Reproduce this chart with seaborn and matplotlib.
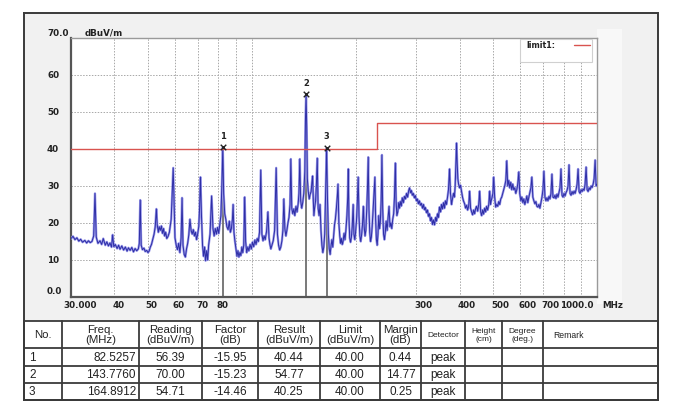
import matplotlib
matplotlib.use("Agg")
import matplotlib.pyplot as plt
import seaborn as sns
from matplotlib.transforms import blended_transform_factory, ScaledTranslation
from matplotlib.patches import Rectangle
from matplotlib.ticker import NullLocator

# ---------------- data ----------------
trace_freq_mhz = [
    30.0, 30.4, 30.8, 31.2, 31.6, 32.0, 32.4, 32.9, 33.3, 33.7,
    34.1, 34.5, 34.9, 35.2, 35.5, 35.9, 36.4, 36.8, 37.2, 37.7,
    38.1, 38.5, 38.9, 39.3, 39.6, 39.9, 40.3, 40.8, 41.2, 41.6,
    42.1, 42.6, 43.1, 43.6, 44.0, 44.5, 45.0, 45.5, 46.0, 46.5,
    47.0, 47.3, 47.6, 47.9, 48.3, 48.8, 49.2, 49.7, 50.1, 50.5,
    50.9, 51.3, 51.8, 52.2, 52.6, 53.0, 53.3, 53.7, 54.0, 54.4,
    54.8, 55.2, 55.6, 56.0, 56.4, 56.8, 57.3, 57.8, 58.5, 59.3,
    60.0, 60.5, 61.0, 61.5, 62.0, 62.5, 62.9, 63.3, 63.8, 64.3,
    64.8, 65.3, 65.8, 66.3, 66.8, 67.3, 67.8, 68.3, 68.8, 69.3,
    69.8, 70.3, 70.7, 71.1, 71.6, 72.1, 72.6, 73.1, 73.6, 74.1,
    74.6, 75.1, 75.8, 76.6, 77.3, 77.9, 78.5, 79.1, 79.7, 80.3,
    80.9, 81.5, 82.0, 82.53, 83.0, 83.6, 84.2, 84.8, 85.5, 86.2,
    86.8, 87.4, 88.0, 88.4, 88.9, 89.5, 90.1, 90.7, 91.3, 91.9,
    92.5, 93.1, 93.7, 94.3, 94.9, 95.5, 96.1, 96.8, 97.5, 98.2,
    99.0, 99.8, 100.6, 101.4, 102.2, 103.0, 103.8, 104.6, 105.4, 106.3,
    107.1, 107.9, 108.7, 109.5, 110.5, 111.5, 112.3, 113.0, 113.7, 114.5,
    115.5, 116.6, 117.8, 118.8, 119.7, 120.6, 121.5, 122.4, 123.2, 124.0,
    124.8, 125.7, 126.5, 127.4, 128.3, 129.2, 129.9, 130.7, 131.6, 132.5,
    133.4, 134.4, 135.4, 136.4, 137.1, 137.9, 138.7, 139.7, 140.6, 141.6,
    142.6, 143.2, 143.78, 144.4, 145.0, 145.9, 146.8, 147.8, 148.7, 149.5,
    150.2, 150.9, 151.5, 152.2, 153.2, 154.0, 154.9, 155.8, 156.8, 157.8,
    158.8, 159.8, 160.8, 161.8, 162.8, 163.8, 164.89, 165.8, 166.8, 167.8,
    168.8, 169.8, 170.8, 171.8, 172.8, 173.8, 174.8, 176.0, 177.0, 177.9,
    178.9, 180.0, 181.0, 182.0, 183.0, 184.0, 185.2, 186.4, 187.5, 188.8,
    189.8, 190.5, 191.3, 192.3, 193.4, 194.5, 195.6, 196.8, 197.8, 199.0,
    200.0, 201.2, 202.4, 203.5, 204.6, 205.8, 207.0, 208.2, 209.4, 210.6,
    211.8, 213.0, 214.2, 215.5, 216.6, 217.6, 218.6, 219.8, 221.0, 222.2,
    223.4, 224.6, 226.0, 227.5, 228.6, 229.8, 231.0, 232.2, 233.4, 234.6,
    235.8, 237.2, 238.4, 239.6, 241.0, 242.4, 243.8, 245.2, 246.8, 248.4,
    250.0, 251.5, 253.0, 254.6, 256.2, 257.8, 259.2, 260.7, 262.0, 263.4,
    265.0, 266.6, 268.0, 269.5, 271.3, 273.0, 275.0, 277.0, 279.0, 281.0,
    283.0, 285.0, 286.6, 288.4, 290.1, 292.0, 294.0, 296.0, 298.0, 300.0,
    302.0, 304.0, 306.0, 308.0, 310.2, 312.5, 314.5, 316.5, 318.5, 320.8,
    323.0, 325.0, 327.3, 329.5, 331.5, 334.0, 336.0, 338.5, 341.0, 343.0,
    345.3, 347.5, 350.0, 352.5, 354.6, 357.0, 359.5, 361.8, 364.0, 366.5,
    369.2, 371.5, 374.2, 376.5, 379.2, 381.5, 384.3, 386.5, 388.5, 390.5,
    392.1, 393.8, 395.5, 397.4, 400.0, 402.5, 405.5, 408.0, 410.5, 413.7,
    416.5, 419.5, 422.1, 425.0, 427.8, 430.5, 433.5, 436.5, 439.5, 442.3,
    445.0, 448.0, 451.3, 454.5, 457.4, 460.5, 463.5, 466.5, 469.5, 472.9,
    476.0, 479.0, 482.5, 486.0, 489.0, 491.5, 494.0, 497.0, 499.5, 502.3,
    505.5, 509.0, 512.5, 516.0, 519.5, 522.9, 526.5, 529.9, 533.5, 537.0,
    540.5, 544.5, 548.0, 551.5, 555.3, 559.0, 562.8, 566.5, 570.4, 574.0,
    578.1, 582.0, 585.9, 589.5, 593.8, 597.5, 601.8, 605.9, 610.0, 614.0,
    618.1, 622.3, 626.5, 630.5, 634.9, 640.0, 643.5, 647.8, 652.0, 656.5,
    661.0, 665.5, 669.9, 674.5, 678.9, 683.5, 688.1, 693.0, 697.5, 702.0,
    706.8, 711.5, 716.3, 721.1, 726.0, 730.8, 735.7, 740.6, 745.6, 750.6,
    755.6, 760.7, 765.8, 771.0, 776.1, 781.3, 786.6, 791.9, 797.2, 802.5,
    807.9, 813.4, 818.9, 824.4, 829.9, 835.5, 841.1, 846.8, 852.4, 858.2,
    864.0, 869.8, 875.6, 881.5, 887.4, 893.4, 899.4, 905.4, 911.5, 917.6,
    923.7, 929.9, 936.2, 942.5, 948.8, 955.2, 961.6, 968.1, 974.5, 981.0,
    987.6, 994.0, 1000.0,
]
trace_level_dbuv = [
    15.8, 16.4, 15.5, 16.0, 15.1, 15.6, 14.8, 15.3, 14.6, 15.2,
    14.7, 15.0, 16.5, 28.0, 16.2, 14.5, 15.2, 14.2, 15.8, 14.0,
    14.9, 13.8, 14.6, 13.5, 16.8, 13.6, 14.2, 13.1, 14.0, 12.9,
    13.8, 12.7, 13.5, 12.4, 13.3, 12.6, 13.4, 12.2, 13.1, 12.5,
    13.0, 14.5, 26.2, 14.0, 12.8, 13.2, 12.3, 12.6, 12.0, 12.4,
    13.5, 14.2, 15.8, 17.0, 19.0, 23.8, 19.5, 17.5, 19.0, 18.0,
    19.2, 17.2, 18.5, 16.5, 17.5, 15.8, 16.4, 17.5, 21.0, 34.9,
    16.0, 14.0, 12.8, 14.5, 12.0, 16.0, 26.8, 14.0, 11.5, 10.8,
    13.0, 14.5, 16.8, 21.0, 18.0, 17.0, 18.2, 16.5, 17.5, 15.5,
    17.0, 19.0, 24.0, 32.4, 22.0, 14.0, 11.0, 13.5, 9.8, 12.5,
    10.0, 14.0, 17.0, 27.3, 18.5, 16.5, 18.5, 17.0, 18.8, 17.2,
    19.5, 22.0, 30.0, 40.44, 28.0, 22.5, 21.0, 19.0, 18.2, 20.5,
    17.5, 18.5, 21.0, 25.0, 17.5, 15.0, 13.0, 11.0, 12.5, 10.8,
    12.0, 11.2, 13.5, 12.0, 14.0, 27.0, 15.0, 12.0, 13.5, 12.5,
    14.2, 13.0, 14.8, 13.6, 15.4, 14.2, 15.8, 15.0, 17.5, 34.3,
    17.0, 15.2, 16.5, 15.5, 17.8, 23.0, 16.0, 14.2, 13.0, 14.0,
    15.2, 18.0, 34.9, 17.0, 14.0, 12.7, 13.5, 15.2, 18.0, 26.5,
    18.5, 16.5, 18.0, 20.0, 21.5, 25.0, 37.3, 24.0, 22.5, 23.8,
    22.0, 24.5, 23.0, 25.2, 28.0, 37.3, 26.0, 24.0, 25.5, 28.0,
    34.0, 48.0, 54.77, 46.0, 32.0, 28.5, 26.5, 27.8, 28.5, 31.0,
    32.7, 26.0, 22.0, 24.0, 26.0, 30.0, 37.5, 24.0, 22.0, 25.0,
    18.0, 14.0, 12.0, 13.5, 17.0, 28.0, 40.25, 27.0, 17.0, 13.0,
    11.5, 13.8, 15.5, 13.5, 16.5, 19.5, 21.0, 24.0, 27.0, 30.5,
    20.0, 16.5, 14.5, 15.8, 14.2, 15.0, 17.2, 15.5, 18.0, 22.0,
    27.0, 34.6, 22.0, 16.0, 14.8, 16.2, 19.0, 25.0, 17.0, 15.5,
    17.5, 20.5, 26.0, 32.4, 22.0, 16.5, 15.0, 16.8, 19.5, 24.5,
    19.0, 16.5, 18.0, 24.0, 30.0, 37.8, 24.0, 17.5, 15.0, 16.2,
    19.0, 23.0, 28.0, 32.4, 21.0, 15.5, 14.0, 17.0, 22.0, 18.5,
    20.0, 26.0, 38.4, 24.0, 17.0, 15.5, 17.5, 20.5, 18.0, 21.5,
    24.5, 19.0, 20.0, 18.5, 21.0, 22.5, 27.0, 36.2, 26.0, 22.0,
    23.0, 25.5, 24.0, 25.8, 24.6, 26.8, 25.5, 27.2, 26.5, 28.0,
    27.0, 28.8, 29.5, 28.2, 28.8, 27.5, 28.0, 26.8, 27.4, 26.0,
    26.5, 25.2, 26.0, 24.8, 25.3, 24.0, 25.0, 23.6, 24.2, 22.8,
    23.5, 21.8, 22.5, 20.6, 21.5, 19.6, 20.8, 19.5, 21.5, 20.5,
    22.5, 21.5, 24.3, 23.0, 25.0, 23.8, 25.5, 24.0, 26.0, 25.0,
    27.0, 29.0, 34.6, 28.0, 25.0, 26.5, 28.0, 27.0, 30.0, 36.0,
    41.6, 36.0, 32.0, 30.5, 29.5, 30.2, 28.5, 27.0, 26.0, 25.2,
    24.0, 24.8, 23.5, 24.5, 28.6, 24.0, 23.0, 22.2, 23.5, 22.5,
    23.8, 24.5, 23.2, 25.0, 28.6, 23.0, 22.0, 23.5, 22.4, 24.0,
    23.0, 24.5, 23.5, 25.0, 28.6, 25.0, 26.0, 27.0, 28.0, 32.4,
    27.0, 24.3, 25.0, 24.5, 25.8, 25.0, 26.5, 27.0, 28.0, 29.0,
    30.0, 31.5, 36.8, 30.0, 31.5, 29.5, 31.0, 29.0, 30.5, 29.0,
    29.5, 28.0, 29.0, 30.5, 33.8, 28.0, 26.0, 27.0, 25.5, 26.5,
    25.0, 26.0, 27.3, 25.5, 27.0, 28.5, 29.5, 32.4, 27.0, 26.0,
    25.2, 25.8, 24.5, 24.3, 25.0, 24.0, 25.5, 27.0, 29.0, 34.0,
    27.0, 26.0, 26.8, 26.0, 27.2, 26.5, 28.0, 33.2, 27.0, 26.8,
    27.5, 26.6, 27.8, 27.0, 28.2, 29.5, 34.6, 27.5, 27.0, 28.0,
    27.3, 28.2, 28.8, 30.0, 35.7, 28.0, 27.5, 28.5, 27.8, 28.6,
    28.0, 29.0, 30.5, 34.6, 28.5, 28.0, 29.0, 28.5, 29.2, 28.8,
    30.5, 35.1, 29.0, 28.5, 29.5, 29.0, 30.0, 29.6, 30.5, 32.0,
    37.0, 30.0, 30.5,
]

limit_freq_mhz = [30, 230, 230, 1000]
limit_level_dbuv = [40, 40, 47, 47]

y_ticks = [0, 10, 20, 30, 40, 50, 60, 70]
y_tick_labels = ["0.0", "10", "20", "30", "40", "50", "60", "70.0"]
x_grid = [40, 50, 60, 70, 80, 90, 100, 200, 300, 400, 500, 600, 700, 800, 900]
x_tick_vals = [30, 40, 50, 60, 70, 80, 300, 400, 500, 600, 700, 1000]
x_tick_labels = ["30.000", "40", "50", "60", "70", "80", "300", "400",
                 "500", "600", "700", "1000.0"]

table_no = ["1", "2", "3"]
table_freq = ["82.5257", "143.7760", "164.8912"]
table_reading = ["56.39", "70.00", "54.71"]
table_factor = ["-15.95", "-15.23", "-14.46"]
table_result = ["40.44", "54.77", "40.25"]
table_limit = ["40.00", "40.00", "40.00"]
table_margin = ["0.44", "14.77", "0.25"]
table_detector = ["peak", "peak", "peak"]
table_headers = ["No.", "Freq.\n(MHz)", "Reading\n(dBuV/m)", "Factor\n(dB)",
                 "Result\n(dBuV/m)", "Limit\n(dBuV/m)", "Margin\n(dB)",
                 "Detector", "Height\n(cm)", "Degree\n(deg.)", "Remark"]

marker_freq = [float(v) for v in table_freq]
marker_level = [float(v) for v in table_result]

# ---------------- figure ----------------
sns.set_theme(style="white")
plt.rcParams["font.family"] = ["DejaVu Sans"]

W, H = 675, 414
DPI = 100
fig = plt.figure(figsize=(W / DPI, H / DPI), dpi=DPI)
fig.patch.set_facecolor("white")

# background layer in pixel coordinates
bg = fig.add_axes([0, 0, 1, 1], zorder=0)
bg.set_xlim(0, W)
bg.set_ylim(H, 0)
bg.axis("off")
bg.add_patch(Rectangle((24, 14), 634, 308, facecolor="#f1f1f1", edgecolor="none"))
bg.add_patch(Rectangle((597, 30), 25, 275, facecolor="#f8f8f8", edgecolor="none"))

# main plot
ax = fig.add_axes([71 / W, 1 - 298 / H, 526 / W, 259 / H], zorder=2)
ax.set_facecolor("white")
ax.set_xscale("log")

sns.lineplot(x=trace_freq_mhz, y=trace_level_dbuv, ax=ax, color="#9a9aea",
             linewidth=1.7, estimator=None, sort=False, zorder=3)
sns.lineplot(x=trace_freq_mhz, y=trace_level_dbuv, ax=ax, color="#2e2ea6",
             linewidth=0.7, estimator=None, sort=False, zorder=4)
sns.lineplot(x=limit_freq_mhz, y=limit_level_dbuv, ax=ax, color="#d9534f",
             linewidth=1.0, estimator=None, sort=False, zorder=5)

ax.vlines(marker_freq, 0, marker_level, color="#6e6e6e", linewidth=1.3, zorder=2.5)
sns.scatterplot(x=marker_freq, y=marker_level, ax=ax, marker="x", color="#222222",
                s=16, linewidth=1.0, zorder=6)
for i, (f, lv) in enumerate(zip(marker_freq, marker_level)):
    ax.annotate(table_no[i], (f, lv), xytext=(0, 5.5), textcoords="offset points",
                ha="center", va="bottom", fontsize=6, fontweight="bold",
                color="#222222", zorder=7)

ax.set_xlim(30, 1000)
ax.set_ylim(0, 70)
ax.set_xticks(x_grid)
ax.xaxis.set_minor_locator(NullLocator())
ax.set_yticks(y_ticks[1:-1])
ax.tick_params(length=0, labelbottom=False, labelleft=False)
ax.grid(True, color="#a8a8a8", linestyle=(0, (1.5, 1.5)), linewidth=0.7)
ax.set_xlabel("")
ax.set_ylabel("")
for side in ["top", "right"]:
    ax.spines[side].set_color("#9a9a9a")
    ax.spines[side].set_linewidth(1.0)
for side in ["left", "bottom"]:
    ax.spines[side].set_color("#555555")
    ax.spines[side].set_linewidth(1.6)

# y tick labels
def px(dx, dy):
    return ScaledTranslation(dx / DPI, dy / DPI, fig.dpi_scale_trans)

ytr = blended_transform_factory(fig.transFigure, ax.transData)
for v, lab in zip(y_ticks, y_tick_labels):
    shift = 6 if v in (0, 70) else 0
    ax.text(47 / W, v, lab, transform=ytr + px(0, shift), ha="left", va="center",
            fontsize=6.3, fontweight="bold", color="#222222")
ax.text(85 / W, 70, "dBuV/m", transform=ytr + px(0, 6), ha="left", va="center",
        fontsize=6.3, fontweight="bold", color="#222222")

# x tick labels
xtr = blended_transform_factory(ax.transData, fig.transFigure)
ylab = 1 - 306 / H
for v, lab in zip(x_tick_vals, x_tick_labels):
    if lab == "30.000":
        ax.text(v, ylab, lab, transform=xtr + px(-8, 0), ha="left", va="center",
                fontsize=6.3, fontweight="bold", color="#222222")
    elif lab == "1000.0":
        ax.text(v, ylab, lab, transform=xtr + px(-3, 0), ha="right", va="center",
                fontsize=6.3, fontweight="bold", color="#222222")
    else:
        ax.text(v, ylab, lab, transform=xtr + px(-2, 0), ha="left", va="center",
                fontsize=6.3, fontweight="bold", color="#222222")
ax.text(1000, ylab, "MHz", transform=xtr + px(5, 0), ha="left", va="center",
        fontsize=6.3, fontweight="bold", color="#222222")

# overlay: legend box, frame and table (pixel coordinates)
ov = fig.add_axes([0, 0, 1, 1], zorder=5)
ov.set_xlim(0, W)
ov.set_ylim(H, 0)
ov.axis("off")
ov.patch.set_alpha(0)

ov.add_patch(Rectangle((520, 40), 72, 23, facecolor="white", edgecolor="#d0d0d0",
                       linewidth=0.8))
ov.text(526, 46, "limit1:", ha="left", va="center", fontsize=5.8,
        fontweight="bold", color="#222222")
ov.plot([574, 590], [46, 46], color="#d9534f", linewidth=1.0)

# outer frame
frame_col = "#3a3a3a"
ov.plot([24, 658, 658, 24, 24], [14, 14, 401, 401, 14], color=frame_col,
        linewidth=1.4, solid_joinstyle="miter")

# table
col_x = [24, 62, 139, 202, 258, 320, 380, 421, 465, 502, 543, 658]
row_y = [322, 349, 367, 384, 401]
ov.add_patch(Rectangle((24, 322), 634, 79, facecolor="white", edgecolor="none"))
for y in row_y:
    ov.plot([24, 658], [y, y], color=frame_col, linewidth=1.3)
for x in col_x:
    ov.plot([x, x], [322, 401], color=frame_col, linewidth=1.3)

tfont = ["Liberation Sans", "DejaVu Sans"]
for i, hdr in enumerate(table_headers):
    cx = (col_x[i] + col_x[i + 1]) / 2
    if hdr == "Remark":
        ov.text(553, 335.5, hdr, ha="left", va="center", fontsize=6.2,
                family=tfont, color="#222222")
    elif i >= 7:
        ov.text(cx, 335.5, hdr, ha="center", va="center", fontsize=6.0,
                family=tfont, color="#222222", linespacing=1.05)
    else:
        ov.text(cx, 335.5, hdr, ha="center", va="center", fontsize=8.2,
                family=tfont, color="#222222", linespacing=1.0)

cols = [table_reading, table_factor, table_result, table_limit, table_margin,
        table_detector]
for r in range(3):
    cy = (row_y[r + 1] + row_y[r + 2]) / 2
    ov.text(29, cy, table_no[r], ha="left", va="center", fontsize=8.5,
            family=tfont, color="#222222")
    ov.text(136, cy, table_freq[r], ha="right", va="center", fontsize=8.5,
            family=tfont, color="#222222")
    for j, col in enumerate(cols):
        cx = (col_x[j + 2] + col_x[j + 3]) / 2
        ov.text(cx, cy, col[r], ha="center", va="center", fontsize=8.5,
                family=tfont, color="#222222")

fig.savefig("out.png", dpi=DPI)
